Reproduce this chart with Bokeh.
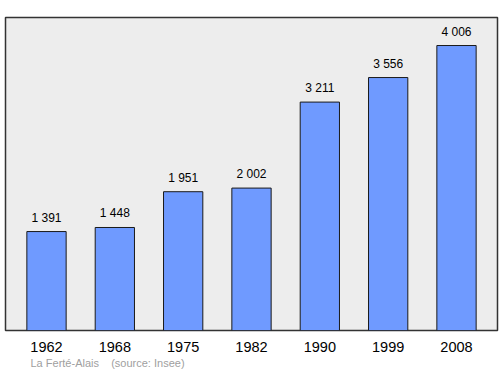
from bokeh.plotting import figure
from bokeh.models import Range1d, FixedTicker, ColumnDataSource, Title
from bokeh.core.properties import value
from bokeh.embed import file_html
from bokeh.resources import INLINE

years = ["1962", "1968", "1975", "1982", "1990", "1999", "2008"]
population = [1391, 1448, 1951, 2002, 3211, 3556, 4006]
value_labels = ["1 391", "1 448", "1 951", "2 002", "3 211", "3 556", "4 006"]
footer = "La Ferté-Alais\u00a0\u00a0\u00a0\u00a0(source: Insee)"

xs = list(range(len(years)))
src = ColumnDataSource(dict(x=xs, top=population, lab=value_labels))

p = figure(width=500, height=374, output_backend="svg", toolbar_location=None,
           x_range=Range1d(-0.6, 6.6), y_range=Range1d(0, 4400),
           min_border_left=5, min_border_right=3, min_border_top=17, min_border_bottom=44)
p.background_fill_color = "#ededed"
p.border_fill_color = "white"
p.outline_line_color = "#333333"
p.outline_line_width = 1.5
p.grid.visible = False
p.yaxis.visible = False

p.vbar(x="x", top="top", width=0.575, bottom=0, source=src,
       fill_color="#6f9aff", line_color="#1a1a1a", line_width=1)
p.text(x="x", y="top", text="lab", source=src, text_align="center",
       text_baseline="alphabetic", y_offset=-14, text_font_size="12px",
       text_font=value("Liberation Sans"), text_color="black")

ax = p.xaxis[0]
ax.ticker = FixedTicker(ticks=xs)
ax.major_label_overrides = {i: y for i, y in enumerate(years)}
ax.axis_line_color = None
ax.major_tick_line_color = None
ax.minor_tick_line_color = None
ax.major_label_standoff = 5
ax.major_label_text_font_size = "14.5px"
ax.major_label_text_color = "black"
ax.major_label_text_font = "Liberation Sans"

p.add_layout(Title(text=footer, align="left", offset=25, standoff=0,
                   text_font_size="11px", text_color="#a0a0a0",
                   text_font="Liberation Sans", text_font_style="normal"), "below")

open("out.html", "w").write(file_html(p, INLINE))
